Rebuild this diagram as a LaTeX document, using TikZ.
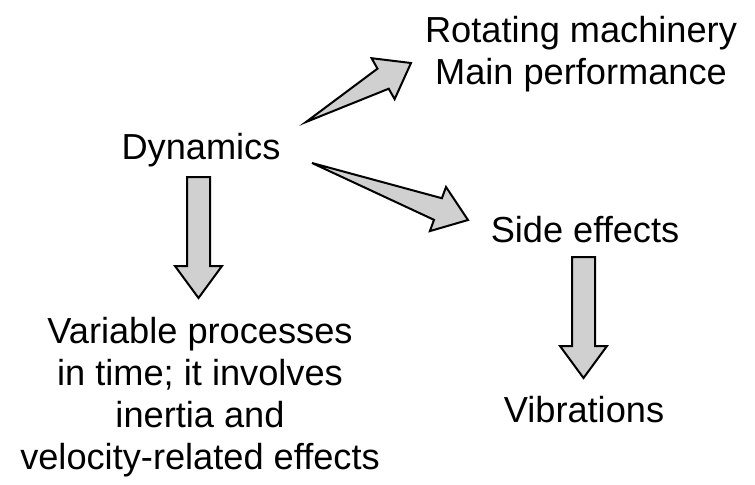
\documentclass[tikz,border=0pt]{standalone}
\usepackage{fontspec}
\setmainfont{Liberation Sans}
\usetikzlibrary{calc}
\definecolor{arrowgray}{HTML}{D0D0D0}
\tikzset{blockarrow/.style = {fill = arrowgray, draw = black, line width = 1pt, line join = miter},
         lbl/.style = {anchor = base, inner sep = 0pt, align = center,
                       font = \fontsize{18.1pt}{21pt}\selectfont}}
% block arrow: #1 tail, #2 tip, #3 half width at the tail
\newcommand{\blockarrow}[3]{%
  \filldraw[blockarrow] ($(#1)!#3!90:(#2)$) -- ($(#2)!16pt!(#1)!5.75pt!-90:(#1)$)
    -- ($(#2)!16pt!(#1)!11.75pt!-90:(#1)$) -- (#2)
    -- ($(#2)!16pt!(#1)!11.75pt!90:(#1)$) -- ($(#2)!16pt!(#1)!5.75pt!90:(#1)$)
    -- ($(#1)!#3!-90:(#2)$) -- cycle;}

\begin{document}
\begin{tikzpicture}
          [x = 0.5pt, y = -0.5pt]
          \useasboundingbox (0,0) rectangle (755,484);
          \node[lbl] (dyn) at (201,159) {Dynamics};
          \node[lbl] (rot) at (581,84) {Rotating machinery\\Main performance};
          \node[lbl] (side) at (585,242) {Side effects};
          \node[lbl] (vib) at (584,422) {Vibrations};
          \node[lbl] (var) at (200,469) {Variable processes\\in time; it involves\\inertia and\\velocity-related effects};
          % arrow ends
          \coordinate (t1) at (306,122); \coordinate (h1) at (411,63);
          \coordinate (t2) at (312,163); \coordinate (h2) at (468,220);
          \coordinate (t3) at (198.5,177); \coordinate (h3) at (198.5,298);
          \coordinate (t4) at (583.5,257); \coordinate (h4) at (583.5,378);
          \blockarrow{t1}{h1}{0pt}
          \blockarrow{t2}{h2}{0pt}
          \blockarrow{t3}{h3}{5.75pt}
          \blockarrow{t4}{h4}{5.75pt}
        \end{tikzpicture}
\end{document}
